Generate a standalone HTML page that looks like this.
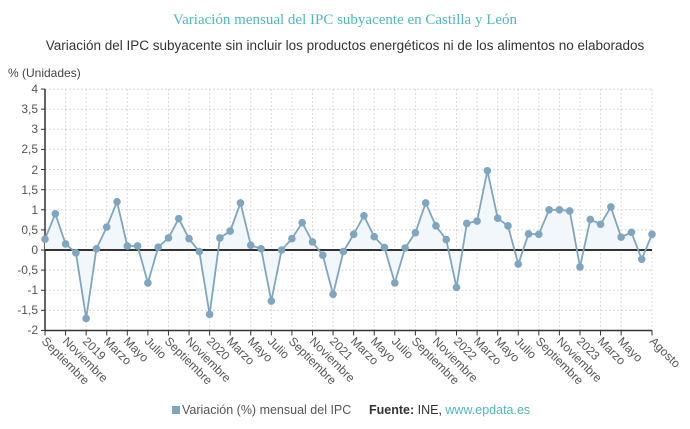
<!DOCTYPE html>
<html><head><meta charset="utf-8"><style>
body{margin:0;background:#fff;width:690px;height:429px;overflow:hidden}
svg{display:block}
.t{font-family:"Liberation Sans",sans-serif;font-size:12px;fill:#555}
</style></head><body>
<svg id="s" width="690" height="429" xmlns="http://www.w3.org/2000/svg">
<text x="345" y="24" text-anchor="middle" font-family="Liberation Serif,serif" font-size="15" fill="#4fb8bb">Variación mensual del IPC subyacente en Castilla y León</text>
<text x="345" y="50" text-anchor="middle" font-family="Liberation Sans,sans-serif" font-size="13.5" fill="#333">Variación del IPC subyacente sin incluir los productos energéticos ni de los alimentos no elaborados</text>
<text x="8" y="77" font-family="Liberation Sans,sans-serif" font-size="12" fill="#444">% (Unidades)</text>
<g id="grid"></g>
<g class="t" text-anchor="end">
<text x="38" y="93">4</text><text x="38" y="113">3,5</text><text x="38" y="133">3</text><text x="38" y="153">2,5</text><text x="38" y="174">2</text><text x="38" y="194">1,5</text><text x="38" y="214">1</text><text x="38" y="234">0,5</text><text x="38" y="254">0</text><text x="38" y="274">-0,5</text><text x="38" y="294">-1</text><text x="38" y="314">-1,5</text><text x="38" y="334">-2</text>
</g>
<g id="lab" class="t">
<text x="41" y="342" transform="rotate(45 41 342)">Septiembre</text>
<text x="62" y="342" transform="rotate(45 62 342)">Noviembre</text>
<text x="82" y="342" transform="rotate(45 82 342)">2019</text>
<text x="103" y="342" transform="rotate(45 103 342)">Marzo</text>
<text x="123" y="342" transform="rotate(45 123 342)">Mayo</text>
<text x="144" y="342" transform="rotate(45 144 342)">Julio</text>
<text x="164" y="342" transform="rotate(45 164 342)">Septiembre</text>
<text x="185" y="342" transform="rotate(45 185 342)">Noviembre</text>
<text x="206" y="342" transform="rotate(45 206 342)">2020</text>
<text x="226" y="342" transform="rotate(45 226 342)">Marzo</text>
<text x="247" y="342" transform="rotate(45 247 342)">Mayo</text>
<text x="267" y="342" transform="rotate(45 267 342)">Julio</text>
<text x="288" y="342" transform="rotate(45 288 342)">Septiembre</text>
<text x="309" y="342" transform="rotate(45 309 342)">Noviembre</text>
<text x="329" y="342" transform="rotate(45 329 342)">2021</text>
<text x="350" y="342" transform="rotate(45 350 342)">Marzo</text>
<text x="370" y="342" transform="rotate(45 370 342)">Mayo</text>
<text x="391" y="342" transform="rotate(45 391 342)">Julio</text>
<text x="411" y="342" transform="rotate(45 411 342)">Septiembre</text>
<text x="432" y="342" transform="rotate(45 432 342)">Noviembre</text>
<text x="453" y="342" transform="rotate(45 453 342)">2022</text>
<text x="473" y="342" transform="rotate(45 473 342)">Marzo</text>
<text x="494" y="342" transform="rotate(45 494 342)">Mayo</text>
<text x="514" y="342" transform="rotate(45 514 342)">Julio</text>
<text x="535" y="342" transform="rotate(45 535 342)">Septiembre</text>
<text x="556" y="342" transform="rotate(45 556 342)">Noviembre</text>
<text x="576" y="342" transform="rotate(45 576 342)">2023</text>
<text x="597" y="342" transform="rotate(45 597 342)">Marzo</text>
<text x="617" y="342" transform="rotate(45 617 342)">Mayo</text>
<text x="649" y="342" transform="rotate(45 649 342)">Agosto</text>
</g>
<rect x="172" y="406" width="8" height="8" fill="#7fa6c0"/>
<text x="182" y="414" font-family="Liberation Sans,sans-serif" font-size="12.5" fill="#555">Variación (%) mensual del IPC</text>
<text x="369" y="414" font-family="Liberation Sans,sans-serif" font-size="12.5" fill="#333"><tspan font-weight="bold">Fuente:</tspan> INE, <tspan fill="#4fb8bb">www.epdata.es</tspan></text>
</svg>
<script>
var ns="http://www.w3.org/2000/svg",s=document.getElementById('s'),g=document.getElementById('grid');
function el(n,a,p){var e=document.createElementNS(ns,n);for(var k in a)e.setAttribute(k,a[k]);(p||s).appendChild(e);return e;}
var X0=45,DX=607/59,Y0=250,SY=40.23;
function X(i){return X0+i*DX}function Y(v){return Y0-v*SY}
for(var v=-2;v<=4;v+=0.5){el('line',{x1:X0,x2:652,y1:Y(v),y2:Y(v),stroke:'#d8d8d8','stroke-dasharray':'2,2'},g);}
var xs=[];for(var i=0;i<=56;i+=2)xs.push(i);xs.push(59);
xs.forEach(function(i){el('line',{x1:X(i),x2:X(i),y1:Y(4),y2:Y(-2),stroke:'#d8d8d8','stroke-dasharray':'2,2'},g);el('line',{x1:X(i),x2:X(i),y1:Y(-2),y2:Y(-2)+5,stroke:'#333'});});
for(var v=-2;v<=4;v+=0.5)el('line',{x1:X0-4,x2:X0,y1:Y(v),y2:Y(v),stroke:'#333'});
el('line',{x1:X0,x2:X0,y1:Y(4),y2:Y(-2),stroke:'#333','stroke-width':1.5});
el('line',{x1:X0,x2:652,y1:Y(-2),y2:Y(-2),stroke:'#333','stroke-width':1.5});
var d=[0.27,0.9,0.15,-0.07,-1.7,0.03,0.57,1.2,0.1,0.1,-0.82,0.07,0.3,0.78,0.28,-0.04,-1.6,0.3,0.47,1.17,0.12,0.03,-1.27,0.0,0.28,0.68,0.2,-0.13,-1.1,-0.04,0.39,0.85,0.33,0.06,-0.82,0.05,0.43,1.17,0.6,0.26,-0.93,0.66,0.72,1.97,0.79,0.6,-0.35,0.4,0.39,1.0,1.0,0.97,-0.42,0.76,0.64,1.07,0.32,0.44,-0.23,0.39];
var pts=d.map(function(v,i){return X(i).toFixed(1)+','+Y(v).toFixed(1)}).join(' ');
el('polygon',{points:X(0)+','+Y0+' '+pts+' '+X(59)+','+Y0,fill:'#f1f7fb'});
el('line',{x1:X0,x2:652,y1:Y0,y2:Y0,stroke:'#333','stroke-width':2});
el('polyline',{points:pts,fill:'none',stroke:'#7fa6c0','stroke-width':1.8});
d.forEach(function(v,i){el('circle',{cx:X(i),cy:Y(v),r:3.8,fill:'#7fa6c0'});});
</script>
</body></html>
